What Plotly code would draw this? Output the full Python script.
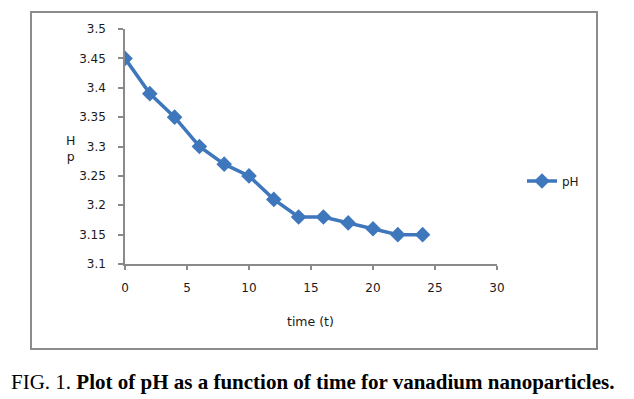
import plotly.graph_objects as go

time_t = [0, 2, 4, 6, 8, 10, 12, 14, 16, 18, 20, 22, 24]
ph_values = [3.45, 3.39, 3.35, 3.30, 3.27, 3.25, 3.21, 3.18, 3.18, 3.17, 3.16, 3.15, 3.15]
series_name = "pH"
x_ticks = [0, 5, 10, 15, 20, 25, 30]
y_ticks = [3.1, 3.15, 3.2, 3.25, 3.3, 3.35, 3.4, 3.45, 3.5]
y_tick_labels = ["3.1", "3.15", "3.2", "3.25", "3.3", "3.35", "3.4", "3.45", "3.5"]
x_title = "time (t)"
y_title = "H<br>p"
caption = "FIG. 1. <b>Plot of pH as a function of time for vanadium nanoparticles.</b>"

OFF = 8  # body margin of the html page
W, H = 634 - OFF, 399 - OFF
L, R, T, B = 125 - OFF, 497 - OFF, 29 - OFF, 264 - OFF
pw, ph = R - L, B - T

def px(xp):
    return (xp - OFF - L) / pw

def py(yp):
    return (B - (yp - OFF)) / ph

blue = "#3f77bd"
axis_col = "#8a8a8a"
tick_font = dict(family="DejaVu Sans", size=12, color="#1a1a1a")

fig = go.Figure()
fig.add_trace(go.Scatter(
    x=time_t, y=ph_values, name=series_name, mode="lines+markers",
    line=dict(color=blue, width=3.5),
    marker=dict(symbol="diamond", size=12, color=blue),
))

fig.update_layout(
    width=W, height=H,
    margin=dict(l=L, r=W - R, t=T, b=H - B),
    paper_bgcolor="white", plot_bgcolor="white",
    showlegend=True,
    legend=dict(x=px(522), y=py(181), xanchor="left", yanchor="middle",
                font=dict(family="DejaVu Sans", size=12, color="#1a1a1a"),
                bgcolor="rgba(0,0,0,0)"),
    xaxis=dict(range=[0, 30], tickvals=x_ticks, showgrid=False, zeroline=False,
               showline=True, linecolor=axis_col, linewidth=1.5,
               ticks="outside", ticklen=4, tickcolor=axis_col, tickwidth=1.5,
               ticklabelstandoff=8, tickfont=tick_font),
    yaxis=dict(range=[3.1, 3.5], tickvals=y_ticks, ticktext=y_tick_labels,
               showgrid=False, zeroline=False,
               showline=True, linecolor=axis_col, linewidth=1.5,
               ticks="outside", ticklen=5, tickcolor=axis_col, tickwidth=1.5,
               ticklabelstandoff=10, tickfont=tick_font),
    shapes=[dict(type="rect", xref="paper", yref="paper",
                 x0=px(31), x1=px(597), y0=py(349), y1=py(12),
                 line=dict(color="#8c8c8c", width=2), layer="below")],
    annotations=[
        dict(text=x_title, xref="paper", yref="paper", x=px(310), y=py(321),
             xanchor="center", yanchor="middle", showarrow=False,
             font=dict(family="DejaVu Sans", size=12.5, color="#1a1a1a")),
        dict(text=y_title, xref="paper", yref="paper", x=px(70), y=py(148),
             xanchor="center", yanchor="middle", showarrow=False,
             font=dict(family="DejaVu Sans", size=12.5, color="#1a1a1a")),
        dict(text=caption, xref="paper", yref="paper", x=px(9), y=py(382),
             xanchor="left", yanchor="middle", showarrow=False,
             font=dict(family="Liberation Serif", size=21, color="black")),
    ],
)

fig.write_html("out.html")
